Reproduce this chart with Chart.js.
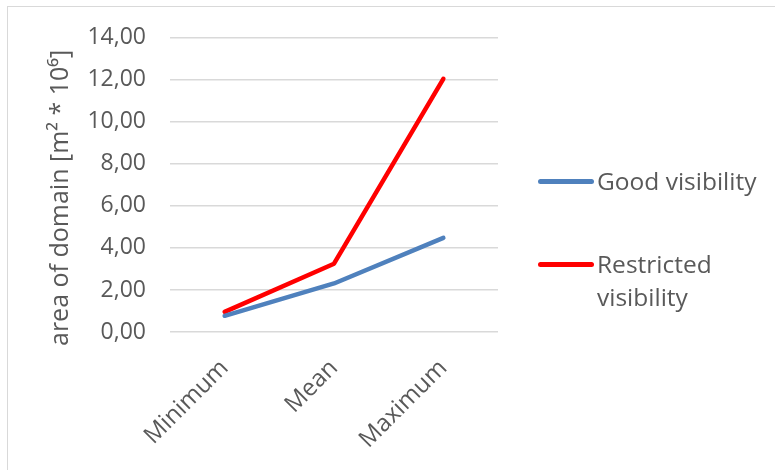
<!DOCTYPE html>
<html>
<head>
<meta charset="utf-8">
<script src="https://cdn.jsdelivr.net/npm/chart.js@4.4.0/dist/chart.umd.min.js"></script>
<style>
  html, body { margin: 0; padding: 0; background: #fff; overflow: hidden; }
  #wrap { position: relative; width: 775px; height: 470px; }
  #frame { position: absolute; left: 7px; top: 6px; width: 800px; height: 500px; border: 1.5px solid #d9d9d9; box-sizing: border-box; }
  canvas { position: absolute; left: 0; top: 0; }
  .leg { position: absolute; font-family: "Open Sans", sans-serif; font-size: 24.5px; color: #595959; line-height: 33px; }
  .sw { position: absolute; height: 5px; border-radius: 3px; width: 56px; }
</style>
</head>
<body>
<div id="wrap">
  <div id="frame"></div>
  <canvas id="c" width="775" height="470"></canvas>
  <div class="sw" style="left:538px; top:179px; background:#4f81bd;"></div>
  <div class="leg" style="left:597px; top:164px;">Good visibility</div>
  <div class="sw" style="left:538px; top:262px; background:#ff0000;"></div>
  <div class="leg" style="left:597px; top:247px;">Restricted<br>visibility</div>
</div>
<script>
const categories = ["Minimum", "Mean", "Maximum"];
const goodVisibility = [0.77, 2.31, 4.48];
const restrictedVisibility = [0.96, 3.25, 12.05];
const seriesNames = ["Good visibility", "Restricted visibility"];
const yTitle = "area of domain [m² * 10⁶]    ";

new Chart(document.getElementById("c"), {
  type: "line",
  data: {
    labels: categories,
    datasets: [
      { label: seriesNames[0], data: goodVisibility, borderColor: "#4f81bd", backgroundColor: "#4f81bd",
        borderWidth: 4.5, pointRadius: 0, tension: 0, borderCapStyle: "round", borderJoinStyle: "round" },
      { label: seriesNames[1], data: restrictedVisibility, borderColor: "#ff0000", backgroundColor: "#ff0000",
        borderWidth: 4.5, pointRadius: 0, tension: 0, borderCapStyle: "round", borderJoinStyle: "round" }
    ]
  },
  options: {
    responsive: false,
    animation: false,
    layout: { padding: { left: 38, right: 277, top: 35, bottom: 0 } },
    plugins: { legend: { display: false }, tooltip: { enabled: false } },
    scales: {
      x: {
        offset: true,
        grid: { display: false },
        border: { display: false },
        ticks: { color: "#595959", font: { family: "Open Sans", size: 24 }, minRotation: 45, maxRotation: 45, padding: 14 },
        afterFit: (s) => { s.height = 138; }
      },
      y: {
        min: 0, max: 14,
        ticks: { stepSize: 2, color: "#595959", font: { family: "Open Sans", size: 23 }, padding: 24,
          callback: (v) => v.toFixed(2).replace(".", ",") },
        grid: { color: "#d9d9d9", lineWidth: 1.5, drawTicks: false },
        border: { display: false },
        title: { display: true, text: yTitle, color: "#595959", font: { family: "Open Sans", size: 25 }, padding: { top: 8, bottom: 0 } },
        afterFit: (s) => { s.width = 132; }
      }
    }
  }
});
</script>
</body>
</html>
